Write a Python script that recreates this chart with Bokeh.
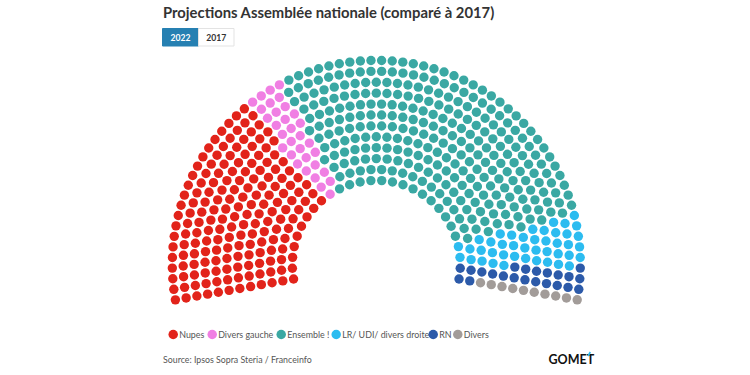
import numpy as np
from bokeh.plotting import figure
from bokeh.models import Range1d, ColumnDataSource
from bokeh.core.properties import value
from bokeh.embed import file_html
from bokeh.resources import INLINE

# ---- data ----
title_text = "Projections Assemblée nationale (comparé à 2017)"
years = ["2022", "2017"]
parties = ["Nupes", "Divers gauche", "Ensemble !", "LR/ UDI/ divers droite", "RN", "Divers"]
seats = [179, 32, 291, 43, 22, 10]
colors = ["#e2231a", "#f07fe3", "#3aa8a3", "#2cbcf0", "#2c5aa9", "#a29c99"]
source_text = "Source: Ipsos Sopra Steria / Franceinfo"
brand = "GOMET"

# ---- layout (page pixel coordinates) ----
W, H = 742, 367
p = figure(width=W, height=H, x_range=Range1d(0, W), y_range=Range1d(H, 0),
           output_backend="svg", toolbar_location=None, min_border=0,
           outline_line_color=None)
p.xaxis.visible = False
p.yaxis.visible = False
p.xgrid.visible = False
p.ygrid.visible = False

FONT = value("Lato")

# hemicycle slots (Highcharts-like item layout, sorted by angle)
cx, cy = 375.8, 263.9
r_in, r_out, n_rows = 84.0, 204.0, 12
a0, a1 = -100.0, 100.0
total = sum(seats)
radii = np.linspace(r_in, r_out, n_rows)
raw = radii / radii.sum() * total
counts = np.floor(raw).astype(int)
rem = total - counts.sum()
order = np.argsort(-(raw - counts))
counts[order[:rem]] += 1
slots = []
for r, n in zip(radii, counts):
    for j in range(n):
        a = a0 + j * (a1 - a0) / (n - 1)
        slots.append((a, r))
slots.sort(key=lambda s: s[0])
ang = np.radians([s[0] for s in slots])
rad = np.array([s[1] for s in slots])
xs = cx + rad * np.sin(ang)
ys = cy - rad * np.cos(ang)
cols = np.repeat(colors, seats)
src = ColumnDataSource(dict(x=xs, y=ys, c=cols))
p.circle(x="x", y="y", radius=4.7, fill_color="c", line_color=None, source=src)

# title
p.text(x=[162.5], y=[11], text=[title_text], text_font=FONT, text_font_style="bold",
       text_font_size="14.8px", text_baseline="middle", text_color="#333333")

# year buttons
bx = [162, 198, 233.5]
p.quad(left=bx[:-1], right=bx[1:], top=[28, 28], bottom=[45.5, 45.5],
       fill_color=["#2680b2", "#ffffff"], line_color=["#2680b2", "#e3e3e3"], line_width=1)
p.text(x=[(bx[0] + bx[1]) / 2, (bx[1] + bx[2]) / 2], y=[37, 37], text=years,
       text_font=FONT, text_font_style="bold", text_font_size="8.6px",
       text_align="center", text_baseline="middle", text_color=["#ffffff", "#333333"])

# legend
leg_x = [172.7, 211.7, 280.7, 335.7, 432.7, 457.3]
leg_y = 334
p.scatter(x=leg_x, y=[leg_y] * len(leg_x), size=9.5, fill_color=colors, line_color=None)
p.text(x=[x + 6.0 for x in leg_x], y=[leg_y] * len(leg_x), text=parties, text_font=FONT,
       text_font_size="8.9px", text_baseline="middle", text_color="#555555")

# source + brand
p.text(x=[162.5], y=[359], text=[source_text], text_font=FONT, text_font_size="8.8px",
       text_baseline="middle", text_color="#555555")
p.text(x=[548], y=[359], text=[brand], text_font=FONT, text_font_style="bold",
       text_font_size="12.5px", text_baseline="middle", text_color="#111111")
p.segment(x0=[587.5], y0=[355.5], x1=[589.8], y1=[351.5], line_color="#2cbcf0", line_width=1.6)

open("out.html", "w").write(file_html(p, INLINE))
